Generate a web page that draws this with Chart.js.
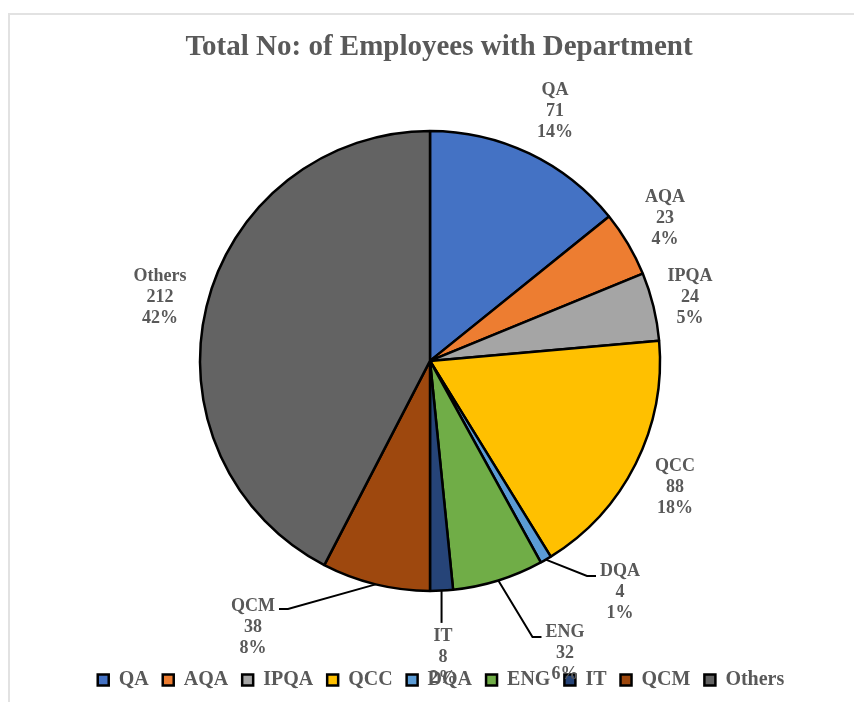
<!DOCTYPE html>
<html>
<head>
<meta charset="utf-8">
<title>Total No: of Employees with Department</title>
<script src="https://cdn.jsdelivr.net/npm/chart.js@4.4.0/dist/chart.umd.min.js"></script>
<style>
    html, body { margin: 0; padding: 0; background: #fff; }
    #wrap { position: relative; width: 854px; height: 702px; overflow: hidden; }
    #frame {
        position: absolute; left: 8px; top: 13px; width: 900px; height: 750px;
        border-left: 2px solid #e2e2e2; border-top: 2px solid #e2e2e2;
    }
    canvas { position: absolute; left: 0; top: 0; }
</style>
</head>
<body>
<div id="wrap">
    <div id="frame"></div>
    <canvas id="myPieChart" width="854" height="702"></canvas>
</div>
<script>
// data
const departments = ['QA', 'AQA', 'IPQA', 'QCC', 'DQA', 'ENG', 'IT', 'QCM', 'Others'];
const employees = [71, 23, 24, 88, 4, 32, 8, 38, 212];
const percentLabels = ['14%', '4%', '5%', '18%', '1%', '6%', '2%', '8%', '42%'];

const sliceColors = ['#4472C4', '#ED7D31', '#A5A5A5', '#FFC000', '#5B9BD5', '#70AD47', '#264478', '#9E480E', '#636363'];

// where each data label sits (offset of its middle line from the pie centre) and how its leader line runs
const labelOffsets = [[125, -250], [235, -143], [260, -64], [245, 126], [190, 231], [135, 292], [13, 296], [-177, 266], [-270, -64]];
const leaderKind = ['none', 'none', 'none', 'none', 'right', 'right', 'down', 'left', 'none'];

const textGray = '#595959';
const serif = "'Liberation Serif', 'Times New Roman', serif";

// Excel style data labels: name / value / percent with leader lines
const dataLabels = {
    id: 'dataLabels',
    afterDatasetsDraw(chart) {
        const ctx = chart.ctx;
        const meta = chart.getDatasetMeta(0);
        const lineH = 21;
        ctx.save();
        ctx.font = 'bold 18px ' + serif;
        ctx.textAlign = 'center';
        ctx.textBaseline = 'middle';
        meta.data.forEach((arc, i) => {
            const cx = arc.x, cy = arc.y;
            const lx = cx + labelOffsets[i][0];
            const ly = cy + labelOffsets[i][1];
            const lines = [departments[i], String(employees[i]), percentLabels[i]];
            const firstY = ly - lineH;

            // leader line
            const mid = (arc.startAngle + arc.endAngle) / 2;
            const ex = cx + Math.cos(mid) * arc.outerRadius;
            const ey = cy + Math.sin(mid) * arc.outerRadius;
            const nameW = ctx.measureText(lines[0]).width;
            ctx.strokeStyle = '#000000';
            ctx.lineWidth = 2;
            if (leaderKind[i] === 'right') {
                const tx = lx - nameW / 2 - 4, ty = firstY + 5;
                ctx.beginPath();
                ctx.moveTo(ex, ey);
                ctx.lineTo(tx - 9, ty);
                ctx.lineTo(tx, ty);
                ctx.stroke();
            } else if (leaderKind[i] === 'left') {
                const tx = lx + nameW / 2 + 4, ty = firstY + 3;
                ctx.beginPath();
                ctx.moveTo(ex, ey);
                ctx.lineTo(tx + 9, ty);
                ctx.lineTo(tx, ty);
                ctx.stroke();
            } else if (leaderKind[i] === 'down') {
                ctx.beginPath();
                ctx.moveTo(ex, ey);
                ctx.lineTo(ex, firstY - 13);
                ctx.stroke();
            }

            ctx.fillStyle = textGray;
            lines.forEach((t, k) => ctx.fillText(t, lx, firstY + k * lineH));
        });
        ctx.restore();
    }
};

// title and legend are centred a little right of the pie in the original
const shiftBoxes = {
    id: 'shiftBoxes',
    afterLayout(chart) {
        if (chart.legend) { chart.legend.left += 11; chart.legend.right += 11; }
        if (chart.titleBlock) { chart.titleBlock.left += 9; chart.titleBlock.right += 9; }
    }
};

const ctxPie = document.getElementById('myPieChart').getContext('2d');
const myPieChart = new Chart(ctxPie, {
    type: 'pie',
    data: {
        labels: departments,
        datasets: [{
            data: employees,
            backgroundColor: sliceColors,
            borderColor: '#000000',
            borderWidth: 2.5,
            radius: 230
        }]
    },
    options: {
        responsive: false,
        animation: false,
        layout: {
            padding: { left: 6, right: 0, top: 0, bottom: 2 }
        },
        plugins: {
            title: {
                display: true,
                text: 'Total No: of Employees with Department',
                color: textGray,
                font: { family: serif, size: 29, weight: 'bold' },
                padding: { top: 30, bottom: 1 }
            },
            legend: {
                position: 'bottom',
                labels: {
                    color: textGray,
                    font: { family: serif, size: 20, weight: 'bold' },
                    boxWidth: 11,
                    boxHeight: 11,
                    padding: 14
                }
            },
            tooltip: { enabled: false }
        }
    },
    plugins: [dataLabels, shiftBoxes]
});
</script>
</body>
</html>
